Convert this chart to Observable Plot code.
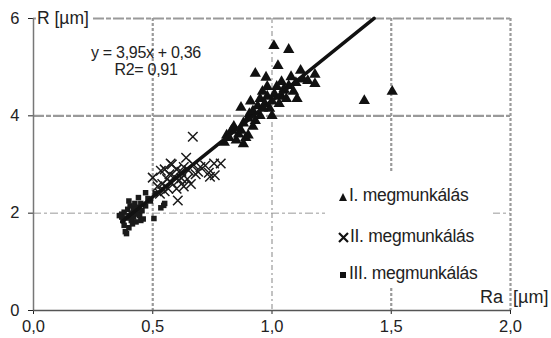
<!DOCTYPE html>
<html><head><meta charset="utf-8">
<script src="https://cdn.jsdelivr.net/npm/d3@7"></script>
<script src="https://cdn.jsdelivr.net/npm/@observablehq/plot@0.6"></script>
<style>
body{margin:0;background:#fff;font-family:"Liberation Sans",Arial,sans-serif;}
#wrap{position:relative;width:551px;height:338px;}
#wrap svg text{font-size:16.5px;fill:#222;}
.lbl{position:absolute;font-size:17.5px;color:#222;white-space:pre;line-height:1;}
#eq{position:absolute;left:76px;top:45px;width:140px;text-align:center;font-size:16px;line-height:16.5px;color:#222;letter-spacing:-0.3px;}
#legend{position:absolute;left:325px;top:173px;width:168px;height:114px;background:#fff;}
.row{position:absolute;left:13px;font-size:17.5px;color:#222;white-space:nowrap;line-height:1;letter-spacing:-0.3px;}
.row svg{vertical-align:-1px;margin-right:1px;}
</style></head>
<body><div id="wrap"></div>
<script>
const xTicks = [0, 0.5, 1.0, 1.5, 2.0];
const yTicks = [0, 2, 4, 6];
const seriesNames = ["I. megmunkálás", "II. megmunkálás", "III. megmunkálás"];
const slope = 3.95, intercept = 0.36;
const fitRange = [0.37, 1.428];

const s1x = [0.80,0.81,0.82,0.83,0.84,0.85,0.86,0.87,0.88,0.89,0.90,0.91,0.905,0.92,0.93,0.93,0.94,0.95,0.95,0.96,0.97,0.975,0.98,0.98,0.99,1.00,1.008,1.01,1.02,1.025,1.03,1.04,1.04,1.05,1.06,1.07,1.07,1.08,1.09,1.10,1.105,1.12,1.13,1.15,1.18,1.18,1.387,1.504,1.00,0.96,0.87,0.88,0.92,1.05,0.90];
const s1y = [3.45,3.60,3.55,3.70,3.78,3.50,3.62,4.17,3.85,3.55,3.95,4.30,4.04,4.10,4.87,3.90,4.20,4.35,4.00,4.50,4.25,4.79,4.60,4.40,4.15,4.30,5.44,4.45,4.60,5.03,4.25,4.40,4.70,4.55,4.35,5.36,4.62,4.80,4.50,4.68,4.35,4.93,4.75,4.72,4.85,4.66,4.31,4.50,4.00,4.15,3.70,3.42,3.78,4.52,3.60];

const s2x = [0.50,0.52,0.534,0.54,0.55,0.56,0.57,0.575,0.58,0.59,0.60,0.605,0.61,0.62,0.63,0.64,0.645,0.65,0.66,0.668,0.67,0.68,0.70,0.72,0.735,0.74,0.757,0.785,0.55,0.60,0.63,0.58,0.53,0.565,0.62,0.69,0.76];
const s2y = [2.73,2.55,2.87,2.60,2.45,2.70,2.80,3.02,2.62,2.75,2.90,2.26,2.68,2.85,2.95,3.14,2.70,2.88,2.60,3.57,3.00,2.80,2.95,2.98,2.83,2.75,3.02,3.02,2.90,2.50,2.55,3.00,2.40,2.50,2.72,2.85,2.78];

const s3x = [0.37,0.37,0.375,0.38,0.38,0.385,0.39,0.39,0.395,0.40,0.40,0.405,0.41,0.41,0.415,0.42,0.42,0.425,0.43,0.43,0.435,0.44,0.44,0.445,0.45,0.455,0.46,0.47,0.47,0.48,0.49,0.505,0.51,0.534,0.546,0.55,0.40,0.45,0.36];
const s3y = [1.92,1.98,1.85,2.02,1.75,1.62,1.58,1.90,2.08,1.95,1.70,2.15,1.85,2.00,1.78,2.10,1.92,2.20,1.98,1.82,2.05,2.32,2.12,1.95,2.20,2.05,1.88,2.42,2.15,2.30,2.25,1.89,2.40,2.11,2.16,2.20,2.25,1.85,1.95];

const pts = (xs, ys) => xs.map((x, i) => ({x, y: ys[i]}));
const fit = fitRange.map(x => ({x, y: slope * x + intercept}));
const fmt = d => d.toFixed(1).replace(".", ",");

const plot = Plot.plot({
  width: 551, height: 338,
  marginLeft: 33, marginRight: 41, marginTop: 18, marginBottom: 28,
  style: {fontFamily: "Liberation Sans, Arial, sans-serif", fontSize: "16.5px", color: "#222", background: "#fff"},
  x: {domain: [0, 2], ticks: xTicks, tickFormat: fmt, label: null, tickSize: 4, tickPadding: 6},
  y: {domain: [0, 6], ticks: yTicks, tickFormat: d => String(d), label: null, tickSize: 5, tickPadding: 9},
  marks: [
    Plot.ruleY([4, 6], {stroke: "#9a9a9a", strokeWidth: 2.2, strokeDasharray: "11,2,5,2"}),
    Plot.ruleY([2], {stroke: "#9a9a9a", strokeWidth: 1, strokeDasharray: "8,3,3,3"}),
    Plot.ruleX([0.5, 1.5, 2.0], {stroke: "#9a9a9a", strokeWidth: 2.2, strokeDasharray: "3,2"}),
    Plot.ruleX([1.0], {stroke: "#9a9a9a", strokeWidth: 1.2, strokeDasharray: "5,3,2,3"}),
    Plot.ruleX([0], {stroke: "#777", strokeWidth: 1.5}),
    Plot.ruleY([0], {stroke: "#555", strokeWidth: 1.5}),
    Plot.dot(pts(s3x, s3y), {x: "x", y: "y", symbol: "square", r: 3.1, fill: "#1a1a1a"}),
    Plot.dot(pts(s2x, s2y), {x: "x", y: "y", symbol: "times", r: 4.4, stroke: "#1a1a1a", strokeWidth: 1.5}),
    Plot.dot(pts(s1x, s1y), {x: "x", y: "y", symbol: "triangle", r: 4.2, fill: "#111"}),
    Plot.line(fit, {x: "x", y: "y", stroke: "#111", strokeWidth: 3.5})
  ]
});
const wrap = document.getElementById("wrap");
wrap.appendChild(plot);

function lbl(text, left, top, extra) {
  const d = document.createElement("div");
  d.className = "lbl"; d.textContent = text;
  d.style.left = left + "px"; d.style.top = top + "px";
  if (extra) Object.assign(d.style, extra);
  wrap.appendChild(d);
  return d;
}
lbl("R [µm]", 36, 10, {background: "#fff", padding: "0 2px 0 1px"});
const eq = document.createElement("div");
eq.id = "eq";
eq.innerHTML = "y = 3,95x + 0,36<br>R2= 0,91";
wrap.appendChild(eq);

const leg = document.createElement("div");
leg.id = "legend";
const syms = [
  '<svg width="10" height="10"><path d="M5,1 L9,9 L1,9Z" fill="#111"/></svg>',
  '<svg width="11" height="11"><path d="M1,1L10,10M10,1L1,10" stroke="#111" stroke-width="2.2"/></svg>',
  '<svg width="10" height="10"><rect x="2" y="2" width="6" height="6" fill="#111"/></svg>'
];
const tops = [14, 55, 92];
seriesNames.forEach((n, i) => {
  const r = document.createElement("div");
  r.className = "row"; r.style.top = tops[i] + "px";
  r.innerHTML = syms[i] + n;
  leg.appendChild(r);
});
wrap.appendChild(leg);
lbl("Ra  [µm]", 480, 288, {fontSize: "18px"});
</script></body></html>
